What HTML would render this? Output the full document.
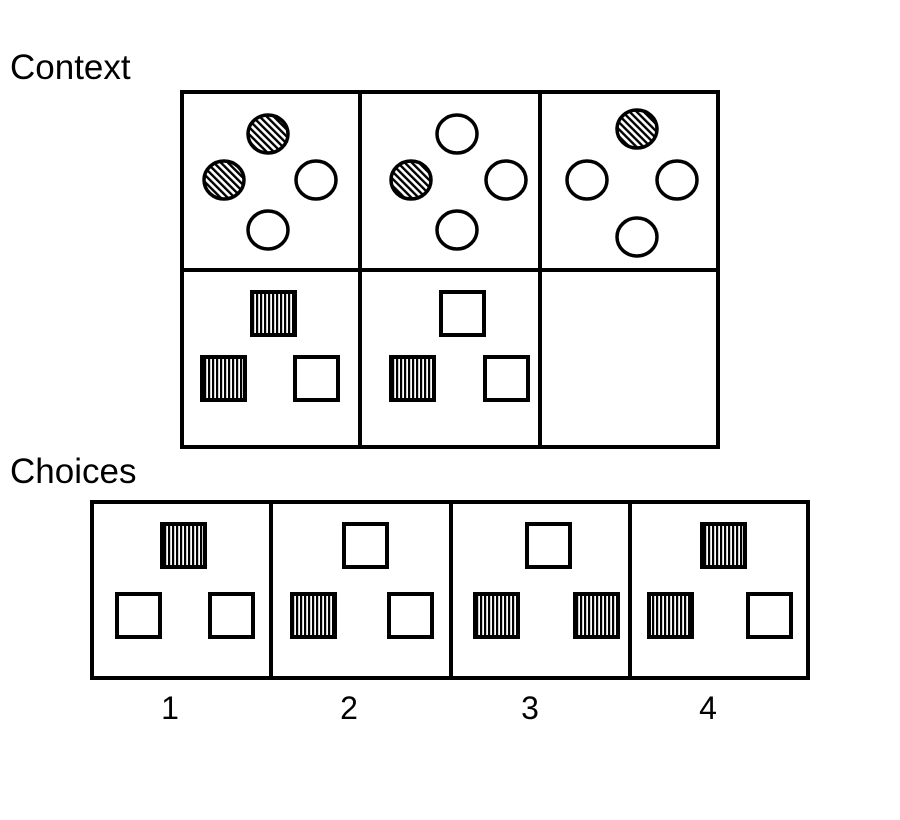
<!DOCTYPE html>
<html><head><meta charset="utf-8"><style>
html,body{margin:0;padding:0;background:#fff;}
svg{display:block;font-family:"Liberation Sans",Arial,sans-serif;}
</style></head><body>
<svg width="900" height="820" viewBox="0 0 900 820">
<defs>
<pattern id="diag" patternUnits="userSpaceOnUse" width="5" height="5" patternTransform="rotate(-45)">
<rect width="5" height="5" fill="#fff"/><rect width="2.4" height="5" fill="#000"/></pattern>
<pattern id="vert" patternUnits="userSpaceOnUse" width="4" height="4">
<rect width="4" height="4" fill="#fff"/><rect width="2.2" height="4" fill="#000"/></pattern>
</defs>
<rect width="900" height="820" fill="#fff"/>
<text x="10" y="79" font-size="35">Context</text>
<text x="10" y="483" font-size="35">Choices</text>
<g id="ctx"></g>
<g id="ch"></g>
</svg>
<script>
const NS='http://www.w3.org/2000/svg';
function mk(tag,attrs,parent){const e=document.createElementNS(NS,tag);for(const k in attrs)e.setAttribute(k,attrs[k]);parent.appendChild(e);return e;}
const ctx=document.getElementById('ctx'), ch=document.getElementById('ch');
let f=mk('rect',{x:182,y:92,width:536,height:355,fill:'none',stroke:'#000','stroke-width':4},ctx);


[[360,92,360,447],[540,92,540,447],[182,270,718,270]].forEach(l=>{let e=mk('line',{x1:l[0],y1:l[1],x2:l[2],y2:l[3],stroke:'#000','stroke-width':4},ctx);

});
const circles=[[268,134,1],[224,180,1],[316,180,0],[268,230,0],
[457,134,0],[411,180,1],[506,180,0],[457,230,0],
[637,129,1],[587,180,0],[677,180,0],[637,237,0]];
circles.forEach(c=>{let e=mk('ellipse',{cx:c[0],cy:c[1],rx:20,ry:19,fill:c[2]?'url(#diag)':'#fff',stroke:'#000','stroke-width':3.5},ctx);

});
function sq(x,y,h,p){let e=mk('rect',{x:x+2,y:y+2,width:43,height:43,fill:h?'url(#vert)':'#fff',stroke:'#000','stroke-width':4},p);

}
[[250,290,1],[200,355,1],[293,355,0],[439,290,0],[389,355,1],[483,355,0]].forEach(s=>sq(s[0],s[1],s[2],ctx));
let g=mk('rect',{x:92,y:502,width:716,height:176,fill:'none',stroke:'#000','stroke-width':4},ch);


[271,451,630].forEach(x=>{let e=mk('line',{x1:x,y1:502,x2:x,y2:678,stroke:'#000','stroke-width':4},ch);

});
const choiceSq=[[160,522,1],[115,592,0],[208,592,0],[342,522,0],[290,592,1],[387,592,0],
[525,522,0],[473,592,1],[573,592,1],[700,522,1],[647,592,1],[746,592,0]];
choiceSq.forEach(s=>sq(s[0],s[1],s[2],ch));
const labels=['1','2','3','4'], lx=[170,349,530,708];
labels.forEach((t,i)=>{let e=mk('text',{x:lx[i],y:719,'font-size':32,'text-anchor':'middle'},ch);e.textContent=t;

});
</script>
</body></html>
